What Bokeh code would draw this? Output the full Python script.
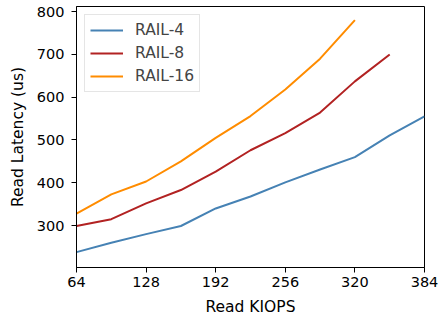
from bokeh.plotting import figure
from bokeh.models import FixedTicker, Range1d, Legend, LegendItem
from bokeh.embed import file_html
from bokeh.resources import INLINE

kiops_4 = [64, 96, 128, 160, 192, 224, 256, 288, 320, 352, 384]
lat_4 = [238, 260, 280, 299, 340, 368, 401, 431, 460, 511, 555]
kiops_8 = [64, 96, 128, 160, 192, 224, 256, 288, 320, 352]
lat_8 = [299, 315, 352, 383, 426, 476, 516, 564, 637, 700]
kiops_16 = [64, 96, 128, 160, 192, 224, 256, 288, 320]
lat_16 = [328, 373, 403, 450, 505, 556, 618, 690, 780]
x_ticks = [64, 128, 192, 256, 320, 384]
y_ticks = [300, 400, 500, 600, 700, 800]
series_names = ["RAIL-4", "RAIL-8", "RAIL-16"]
colors = ["#4682b4", "#b22222", "#ff8c00"]

FONT = "DejaVu Sans"

p = figure(frame_width=348, frame_height=261, output_backend="svg",
           toolbar_location=None,
           x_range=Range1d(64, 384), y_range=Range1d(202, 812),
           min_border_left=76, min_border_right=15,
           min_border_top=6, min_border_bottom=53)
p.grid.visible = False
p.outline_line_color = "black"
p.outline_line_width = 1
p.background_fill_color = "white"
p.border_fill_color = "white"

items = []
for xs, ys, name, c in zip([kiops_4, kiops_8, kiops_16], [lat_4, lat_8, lat_16],
                           series_names, colors):
    r = p.line(xs, ys, line_color=c, line_width=2)
    items.append(LegendItem(label=name, renderers=[r]))

p.xaxis.ticker = FixedTicker(ticks=x_ticks)
p.yaxis.ticker = FixedTicker(ticks=y_ticks)
p.xaxis.axis_label = "Read KIOPS"
p.yaxis.axis_label = "Read Latency (us)"
for ax in [p.xaxis, p.yaxis]:
    ax.axis_label_text_font = FONT
    ax.axis_label_text_font_style = "normal"
    ax.axis_label_text_font_size = "15.5px"
    ax.axis_label_text_color = "black"
    ax.major_label_text_font = FONT
    ax.major_label_text_font_size = "14.5px"
    ax.major_label_text_color = "black"
    ax.major_tick_out = 5
    ax.major_tick_in = 0
    ax.minor_tick_out = 0
    ax.minor_tick_in = 0
    ax.axis_line_color = "black"
    ax.major_tick_line_color = "black"
p.xaxis.major_label_standoff = 4
p.xaxis.axis_label_standoff = 8
p.yaxis.major_label_standoff = 7
p.yaxis.axis_label_standoff = 7

legend = Legend(items=items, location="top_left")
legend.margin = 8
legend.padding = 5
legend.spacing = 3
legend.label_height = 20
legend.glyph_height = 20
legend.glyph_width = 33
legend.label_standoff = 12
legend.label_text_font = FONT
legend.label_text_font_size = "15.5px"
legend.border_line_color = "#cccccc"
legend.border_line_width = 1
legend.background_fill_alpha = 0.8
p.add_layout(legend)

open("out.html", "w").write(file_html(p, INLINE))
